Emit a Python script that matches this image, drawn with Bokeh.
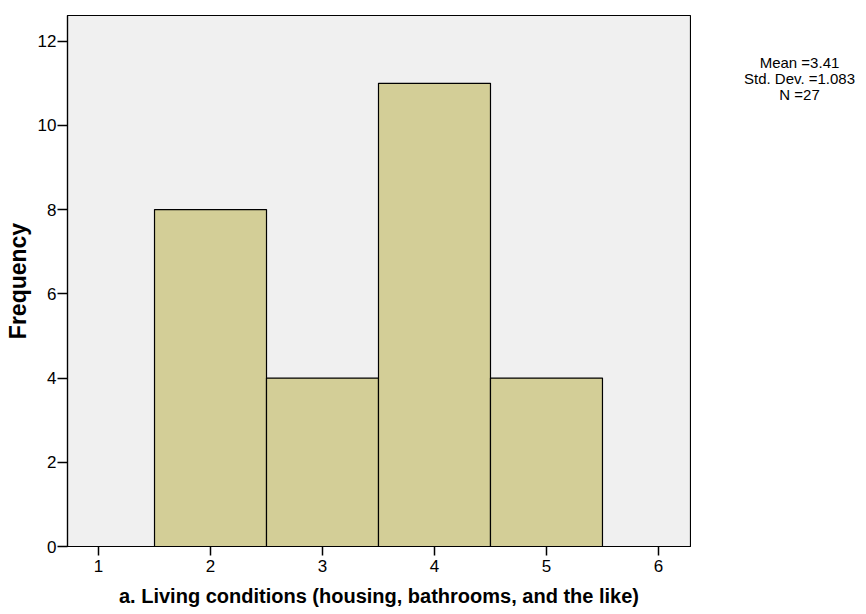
from bokeh.plotting import figure
from bokeh.layouts import row
from bokeh.models import FixedTicker, Range1d
from bokeh.embed import file_html
from bokeh.resources import INLINE
from bokeh.core.properties import value

# Data
bin_centers = [2, 3, 4, 5]
frequencies = [8, 4, 11, 4]
x_ticks = [1, 2, 3, 4, 5, 6]
y_ticks = [0, 2, 4, 6, 8, 10, 12]
stats_lines = ["Mean =3.41", "Std. Dev. =1.083", "N =27"]
x_label = "a. Living conditions (housing, bathrooms, and the like)"
y_label = "Frequency"

FONT = "Liberation Sans"
W, H = 866, 614
BL, BT, BB, BR = 67, 15, 68, 1
FW = 623
MAIN_W = BL + FW + BR
SIDE_W = W - MAIN_W

p = figure(width=MAIN_W, height=H, output_backend="svg", toolbar_location=None,
           x_range=Range1d(0.723, 6.286), y_range=Range1d(0, 12.61))
p.min_border = 0
p.min_border_left = BL
p.min_border_right = BR
p.min_border_top = BT
p.min_border_bottom = BB

p.background_fill_color = "#f0f0f0"
p.border_fill_color = "white"
p.outline_line_color = "black"
p.outline_line_width = 1.2
p.xgrid.visible = False
p.ygrid.visible = False

p.vbar(x=bin_centers, top=frequencies, bottom=0, width=1.0,
       fill_color="#d3ce97", line_color="black", line_width=1.2)

for ax in (p.xaxis[0], p.yaxis[0]):
    ax.axis_line_color = "black"
    ax.axis_line_width = 1.2
    ax.major_tick_line_color = "black"
    ax.major_tick_line_width = 1.5
    ax.major_tick_in = 0
    ax.minor_tick_line_color = None
    ax.major_label_text_font = FONT
    ax.major_label_text_font_size = "17px"
    ax.major_label_text_color = "black"
    ax.axis_label_text_font = FONT
    ax.axis_label_text_font_style = "bold"
    ax.axis_label_text_color = "black"

xa = p.xaxis[0]
xa.ticker = FixedTicker(ticks=x_ticks)
xa.major_tick_out = 9
xa.major_label_standoff = 4
xa.axis_label = x_label
xa.axis_label_text_font_size = "20px"
xa.axis_label_standoff = 10

ya = p.yaxis[0]
ya.ticker = FixedTicker(ticks=y_ticks)
ya.major_tick_out = 10
ya.major_label_standoff = 1
ya.axis_label = y_label
ya.axis_label_text_font_size = "23px"
ya.axis_label_standoff = 4

# side panel with the summary statistics (one multi-line text block)
s = figure(width=SIDE_W, height=H, output_backend="svg", toolbar_location=None,
           x_range=Range1d(0, SIDE_W), y_range=Range1d(H, 0))
s.min_border = 0
s.axis.visible = False
s.grid.visible = False
s.outline_line_color = None
s.background_fill_color = "white"
s.border_fill_color = "white"
s.text(x=[799 - MAIN_W], y=[44], text=["\n".join(stats_lines)],
       text_font=value(FONT), text_font_size="15px", text_line_height=0.95,
       text_align="center", text_baseline="top", text_color="black")

layout = row(p, s, spacing=0)
open("out.html", "w").write(file_html(layout, INLINE))
